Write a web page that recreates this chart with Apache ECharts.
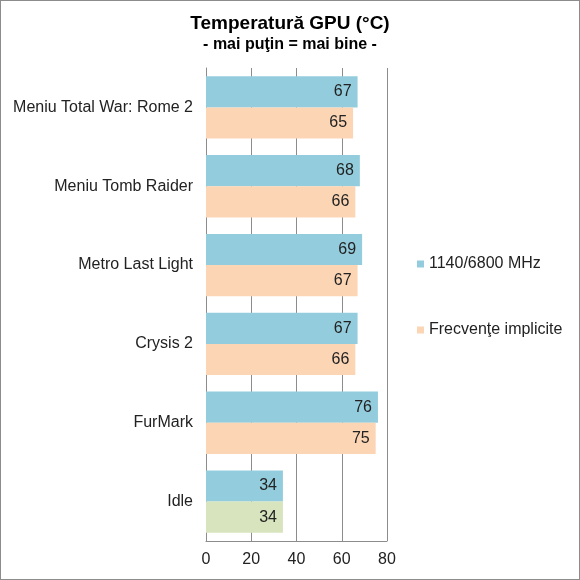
<!DOCTYPE html>
<html><head><meta charset="utf-8">
<script src="https://cdn.jsdelivr.net/npm/echarts@6/dist/echarts.min.js"></script>
<style>html,body{margin:0;padding:0;background:#fff}#c{width:580px;height:580px;box-sizing:border-box;border:1px solid #8c8c8c}</style>
</head><body><div id="c"></div>
<script>
const categories = ['Meniu Total War: Rome 2','Meniu Tomb Raider','Metro Last Light','Crysis 2','FurMark','Idle'];
const seriesNames = ['1140/6800 MHz','Frecvenţe implicite'];
const oc = [67,68,69,67,76,34];
const stock = [65,66,67,66,75,34];
const xTicks = [0,20,40,60,80];
const colors = ['#93CDDD','#FCD5B5'];
const idleColor = '#D7E4BD';

const chart = echarts.init(document.getElementById('c'));
const font = 'Liberation Sans, Arial, sans-serif';
const lbl = {show:true, position:'insideRight', color:'#222', fontSize:16, fontFamily:font, distance:6};
chart.setOption({
  animation:false,
  title:{text:'Temperatură GPU (°C)', subtext:'- mai puţin = mai bine -', left:'center', top:8, itemGap:4,
    textStyle:{fontFamily:font, fontSize:19, fontWeight:'bold', color:'#000'},
    subtextStyle:{fontFamily:font, fontSize:16, fontWeight:'bold', color:'#000'}},
  legend:{orient:'vertical', left:411, top:250, itemWidth:7, itemHeight:7, itemGap:50,
    icon:'rect', textStyle:{fontFamily:font, fontSize:16, color:'#222'}, data:seriesNames},
  grid:{left:205, right:192, top:67, bottom:38},
  xAxis:{type:'value', min:xTicks[0], max:xTicks[xTicks.length-1], interval:20,
    axisLine:{show:true, lineStyle:{color:'#8c8c8c'}}, axisTick:{show:false},
    axisLabel:{color:'#222', fontSize:16, fontFamily:font, margin:11},
    splitLine:{show:true, lineStyle:{color:'#8c8c8c'}}},
  yAxis:{type:'category', data:categories, inverse:true,
    axisLine:{show:true, lineStyle:{color:'#8c8c8c'}}, axisTick:{show:false},
    axisLabel:{color:'#222', fontSize:16, fontFamily:font, margin:13}},
  series:[
    {name:seriesNames[0], type:'bar', data:oc, itemStyle:{color:colors[0]}, barGap:'0%', barCategoryGap:'21%', label:lbl},
    {name:seriesNames[1], type:'bar', itemStyle:{color:colors[1]}, barGap:'0%', barCategoryGap:'21%', label:lbl,
      data:stock.map((v,i)=> i===categories.length-1 ? {value:v, itemStyle:{color:idleColor}} : v)}
  ]
});
</script></body></html>
